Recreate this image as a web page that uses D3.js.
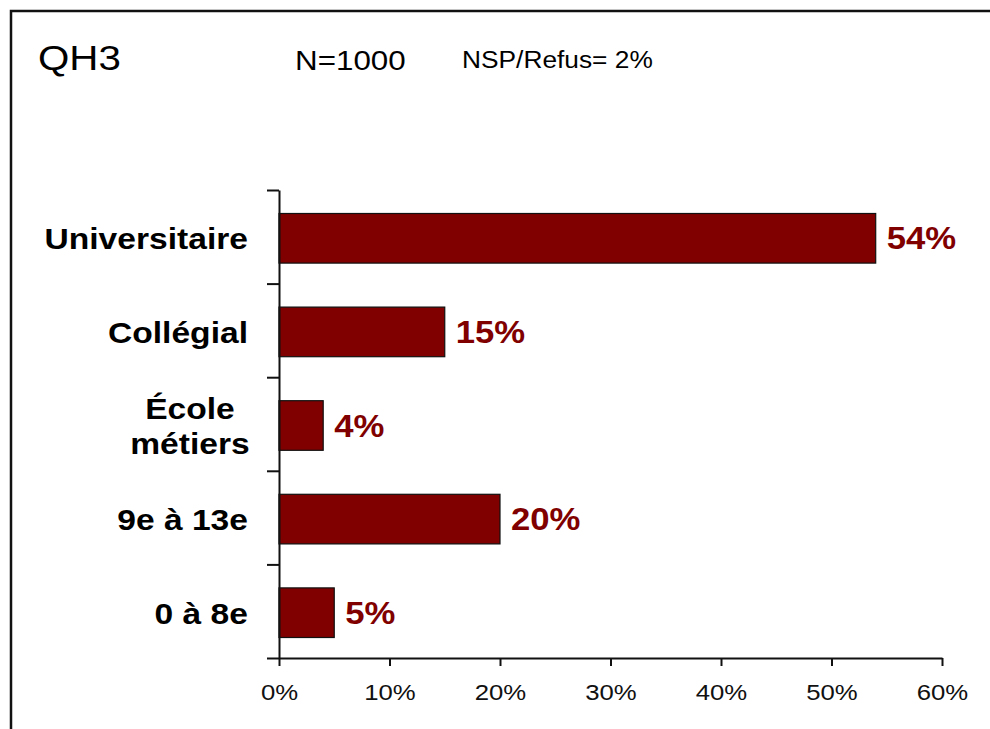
<!DOCTYPE html>
<html>
<head>
  <meta charset="UTF-8">
  <title>QH3</title>
  <script src="https://d3js.org/d3.v7.min.js"></script>
  <style>
    body { margin: 0; background: #fff; }
    text { font-family: "Liberation Sans", Arial, sans-serif; }
  </style>
</head>
<body>
  <svg width="990" height="729"></svg>

  <script>
    // data, top to bottom
    const categories = ["Universitaire", "Collégial", "École\nmétiers", "9e à 13e", "0 à 8e"];
    const values = [54, 15, 4, 20, 5];
    const xTicks = [0, 10, 20, 30, 40, 50, 60];
    const title = "QH3";
    const sampleNote = "N=1000";
    const refusNote = "NSP/Refus= 2%";

    const svg = d3.select("svg");
    const sx = 1.12; // text is a bit wide in the original

    // frame (only top and left edges show)
    svg.append("path")
      .attr("d", "M11,740V11H1000")
      .attr("fill", "none")
      .attr("stroke", "#111")
      .attr("stroke-width", 2.5);

    const x = d3.scaleLinear().domain([0, 60]).range([279, 942]);
    const y = d3.scaleBand()
      .domain(d3.range(categories.length))
      .range([191.5, 659.5])
      .paddingInner(0.47)
      .paddingOuter(0.235);
    const yEdge = d3.scaleLinear().domain([0, categories.length]).range([190, 658]);

    // headers
    const head = svg.append("g");
    head.append("text").text(title)
      .attr("transform", `translate(38,70) scale(${sx},1)`)
      .attr("font-size", 36);
    head.append("text").text(sampleNote)
      .attr("transform", `translate(295,70) scale(${sx},1)`)
      .attr("font-size", 28);
    head.append("text").text(refusNote)
      .attr("transform", `translate(462,68) scale(${sx},1)`)
      .attr("font-size", 23.5);

    // bars
    svg.append("g")
      .selectAll("rect")
      .data(values)
      .join("rect")
      .attr("x", x(0))
      .attr("y", (d, i) => y(i))
      .attr("width", d => x(d) - x(0))
      .attr("height", y.bandwidth())
      .attr("fill", "#800000")
      .attr("stroke", "#111")
      .attr("stroke-width", 1.2);

    // value labels
    svg.append("g")
      .selectAll("text")
      .data(values)
      .join("text")
      .text(d => d + "%")
      .attr("font-size", 31)
      .attr("font-weight", "bold")
      .attr("fill", "#800000")
      .attr("transform", (d, i) =>
        `translate(${x(d) + 11},${y(i) + y.bandwidth() / 2 + 11}) scale(${sx},1)`);

    // category labels
    svg.append("g")
      .selectAll("text")
      .data(categories)
      .join("text")
      .attr("font-size", 30)
      .attr("font-weight", "bold")
      .each(function(d, i) {
        const lines = d.split("\n");
        const t = d3.select(this);
        const cy = y(i) + y.bandwidth() / 2;
        const lh = 36;
        lines.forEach((l, k) => {
          t.append("tspan")
            .attr("x", 0)
            .attr("y", (k - (lines.length - 1) / 2) * lh + 11)
            .text(l);
        });
        t.attr("text-anchor", lines.length > 1 ? "middle" : "end");
        const px = lines.length > 1 ? 248 - 58 : 248;
        t.attr("transform", `translate(${px},${cy}) scale(${sx},1)`);
      });

    // y axis: ticks at category boundaries
    const yAxis = svg.append("g")
      .attr("transform", `translate(${x(0)},0)`)
      .call(d3.axisLeft(yEdge)
        .tickValues(d3.range(categories.length + 1))
        .tickFormat("")
        .tickSize(12)
        .tickSizeOuter(0));
    yAxis.selectAll("line, path").attr("stroke", "#111").attr("stroke-width", 2);

    // x axis
    const xAxis = svg.append("g")
      .attr("transform", "translate(0,658)")
      .call(d3.axisBottom(x)
        .tickValues(xTicks)
        .tickFormat(d => d + "%")
        .tickSize(8)
        .tickSizeOuter(0));
    xAxis.selectAll("line, path").attr("stroke", "#111").attr("stroke-width", 2);
    xAxis.selectAll("text")
      .attr("font-size", 23)
      .attr("fill", "#111")
      .attr("y", null)
      .attr("dy", null)
      .attr("transform", `translate(0,42) scale(${sx},1)`);
  </script>
</body>
</html>
